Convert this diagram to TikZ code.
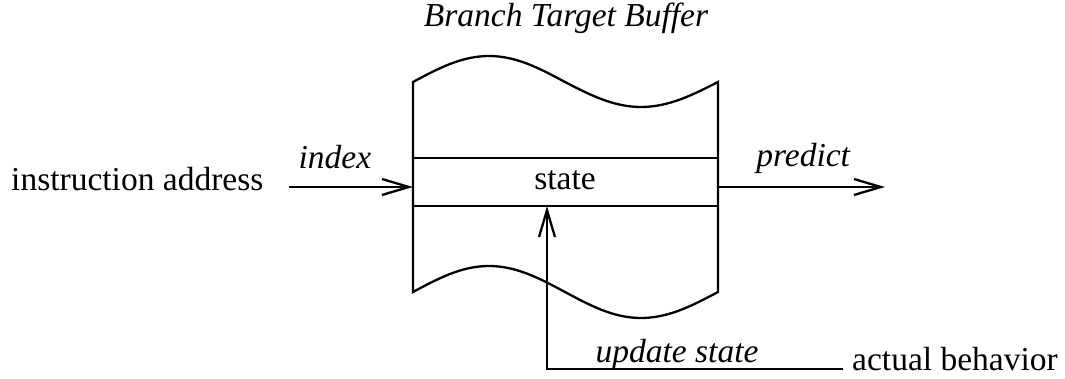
\documentclass[tikz,border=0pt]{standalone}
\usepackage{fontspec}
\setmainfont{Liberation Serif}
\usetikzlibrary{arrows.meta,positioning}

\begin{document}
\begin{tikzpicture}[x=1pt,y=-1pt,
    wire/.style={line width=2.3pt},
    barb/.style={wire,-{Straight Barb[length=27pt,width=16pt,line width=2.3pt]}},
    txt/.style={font=\fontsize{33.5}{40}\selectfont,inner sep=0pt,anchor=base},
    lbl/.style={txt,font=\fontsize{33.5}{40}\selectfont\itshape}]
    \useasboundingbox (0,0) rectangle (1065,379);
    \coordinate (bl) at (413,292);
    \coordinate (br) at (718,292);
    \draw[wire] (bl) -- (413,82) sin (489,56) cos (565,82) sin (641,107) cos (718,82) -- (br) sin (641,318) cos (565,292) sin (489,266) cos (bl) -- cycle;
    \coordinate (rowTL) at (413,158); \coordinate (rowTR) at (718,158);
    \coordinate (rowBL) at (413,206); \coordinate (rowBR) at (718,206);
    \draw[wire] (rowTL) -- (rowTR) (rowBL) -- (rowBR);
    \node[lbl] (title) at (566,27) {Branch Target Buffer};
    \node[txt] (state) at (565,190) {state};
    \node[txt,anchor=base west] (addr) at (11,191) {instruction address};
    \coordinate (inL) at (289,187); \coordinate (inR) at (413,187);
    \draw[barb] (inL) -- (inR) node[lbl,pos=0.37,yshift=18pt] (index) {index};
    \coordinate (outL) at (718,187); \coordinate (outR) at (885,187);
    \draw[barb] (outL) -- (outR) node[lbl,pos=0.51,yshift=20pt] (predict) {predict};
    \coordinate (upTip) at (547,206); \coordinate (upFoot) at (547,369);
    \coordinate (actEnd) at (843,369);
    \draw[barb] (actEnd) -- (upFoot) -- (upTip);
    \node[lbl] (update) at (677,362) {update state};
    \node[txt,anchor=base west] (actual) at (852,370) {actual behavior};
\end{tikzpicture}
\end{document}
